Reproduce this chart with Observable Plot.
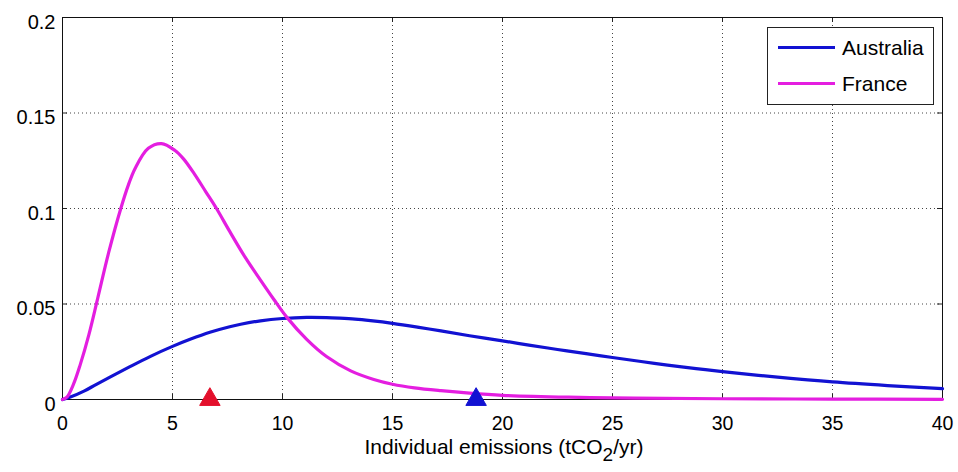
<!DOCTYPE html>
<html>
<head>
<meta charset="utf-8">
<script src="https://cdn.jsdelivr.net/npm/d3@7"></script>
<script src="https://cdn.jsdelivr.net/npm/@observablehq/plot@0.6"></script>
<style>
  html, body { margin: 0; padding: 0; background: #fff; }
  body { font-family: "Liberation Sans", Arial, Helvetica, sans-serif; }
  #wrap { position: relative; width: 958px; height: 472px; }
  #legend { position: absolute; left: 767px; top: 27px; width: 167px; height: 78px;
            border: 1px solid #222; background: #fff; box-sizing: border-box; }
  .row { position: absolute; left: 0; height: 30px; width: 100%; }
  .swatch { position: absolute; left: 10px; width: 57px; height: 3px; }
  .lab { position: absolute; left: 74px; font-size: 21px; line-height: 21px; color: #000; }
</style>
</head>
<body>
<div id="wrap">
  <div id="chart"></div>
  <div id="legend"></div>
</div>
<script>
// ---- data ----
const xTicks = [0, 5, 10, 15, 20, 25, 30, 35, 40];
const yTicks = [0, 0.05, 0.1, 0.15, 0.2];

const seriesNames = ["Australia", "France"];
const seriesColors = ["#1212d2", "#e41ee0"];

const australiaX = [0, 0.3, 1.0, 1.5, 2.2, 3.0, 4.0, 5.0, 5.8, 6.7, 7.6, 8.1, 9.0, 10.0, 11.1, 12.0, 12.6, 13.3, 14.0, 15.0, 16.2, 17.2, 18.5, 20.0, 21.2, 22.5, 23.8, 25.0, 26.3, 27.5, 28.8, 30.0, 32.5, 35.0, 37.5, 40.0];
const australiaY = [0, 0.001, 0.0045, 0.0077, 0.0120, 0.0168, 0.0226, 0.0278, 0.0315, 0.0352, 0.0381, 0.0394, 0.0412, 0.0424, 0.0430, 0.0429, 0.0426, 0.0421, 0.0413, 0.0399, 0.0378, 0.0359, 0.0334, 0.0307, 0.0285, 0.0262, 0.0240, 0.0220, 0.0199, 0.0180, 0.0162, 0.0146, 0.0117, 0.0092, 0.0073, 0.0057];

const franceX = [0, 0.2, 0.5, 0.8, 1.2, 1.6, 2.1, 2.65, 3.0, 3.3, 3.9, 4.5, 5.1, 5.5, 6.0, 6.5, 7.0, 7.6, 8.3, 9.0, 9.6, 10.2, 11.1, 12.0, 13.1, 14.15, 15.0, 16.0, 17.2, 18.5, 20.0, 23.0, 26.0, 30.0, 35.0, 40.0];
const franceY = [0, 0.0012, 0.008, 0.018, 0.034, 0.053, 0.077, 0.100, 0.1125, 0.121, 0.1315, 0.134, 0.1305, 0.126, 0.118, 0.109, 0.100, 0.088, 0.0745, 0.0625, 0.0525, 0.0430, 0.0315, 0.0225, 0.0150, 0.0105, 0.0080, 0.0061, 0.0046, 0.0033, 0.0022, 0.0012, 0.0007, 0.0004, 0.0002, 0.0001];

const markerX = [6.7, 18.8];
const markerColors = ["#e4102c", "#1212d2"];

// ---- build tables ----
const australia = australiaX.map((x, i) => ({x, y: australiaY[i]}));
const france = franceX.map((x, i) => ({x, y: franceY[i]}));
const markers = markerX.map((x, i) => ({x, y: 0, c: markerColors[i]}));

const W = 958, H = 472, mL = 62, mR = 16, mT = 17, mB = 73;
const plotW = W - mL - mR, plotH = H - mT - mB;
const font = "'Liberation Sans', Arial, Helvetica, sans-serif";

const chart = Plot.plot({
  width: W, height: H,
  marginLeft: mL, marginRight: mR, marginTop: mT, marginBottom: mB,
  style: {fontFamily: font, fontSize: "20px", color: "#000", background: "#fff", overflow: "visible"},
  x: {domain: [0, 40], label: null},
  y: {domain: [0, 0.2], label: null},
  marks: [
    Plot.gridX(xTicks, {stroke: "#444", strokeOpacity: 1, strokeWidth: 1, strokeDasharray: "1,3"}),
    Plot.gridY(yTicks, {stroke: "#444", strokeOpacity: 1, strokeWidth: 1, strokeDasharray: "1,3"}),
    Plot.tickX(xTicks, {x: d => d, insetTop: plotH - 5, stroke: "#222"}),
    Plot.tickX(xTicks, {x: d => d, insetBottom: plotH - 5, stroke: "#222"}),
    Plot.tickY(yTicks, {y: d => d, insetRight: plotW - 5, stroke: "#222"}),
    Plot.tickY(yTicks, {y: d => d, insetLeft: plotW - 5, stroke: "#222"}),
    Plot.frame({stroke: "#111", strokeWidth: 1}),
    Plot.axisX(xTicks, {tickSize: 0, tickPadding: 17, fontSize: 19.5, fill: "#000"}),
    Plot.axisY(yTicks, {tickSize: 0, tickPadding: 7, fontSize: 20, dy: 5, fill: "#000", tickFormat: d3.format("~g")}),
    Plot.line(australia, {x: "x", y: "y", stroke: seriesColors[0], strokeWidth: 3.2, curve: "catmull-rom"}),
    Plot.line(france, {x: "x", y: "y", stroke: seriesColors[1], strokeWidth: 3.2, curve: "catmull-rom"}),
    Plot.dot(markers, {x: "x", y: "y", symbol: "triangle", r: 7.6, fill: "c", stroke: "c", strokeWidth: 1})
  ]
});
document.getElementById("chart").appendChild(chart);

// x-axis label with subscript
const svg = d3.select(chart);
const lbl = svg.append("text")
  .attr("x", mL + plotW / 2 + 2)
  .attr("y", 454)
  .attr("text-anchor", "middle")
  .attr("font-family", font)
  .attr("font-size", 21)
  .attr("fill", "#000");
lbl.append("tspan").text("Individual emissions (tCO");
lbl.append("tspan").attr("dy", 7).attr("font-size", 19).text("2");
lbl.append("tspan").attr("dy", -7).text("/yr)");

// legend
const legend = d3.select("#legend");
seriesNames.forEach((name, i) => {
  const row = legend.append("div").attr("class", "row").style("top", (i === 0 ? 5 : 41) + "px");
  row.append("div").attr("class", "swatch").style("top", "13px").style("background", seriesColors[i]);
  row.append("div").attr("class", "lab").style("top", "4px").text(name);
});
</script>
</body>
</html>
